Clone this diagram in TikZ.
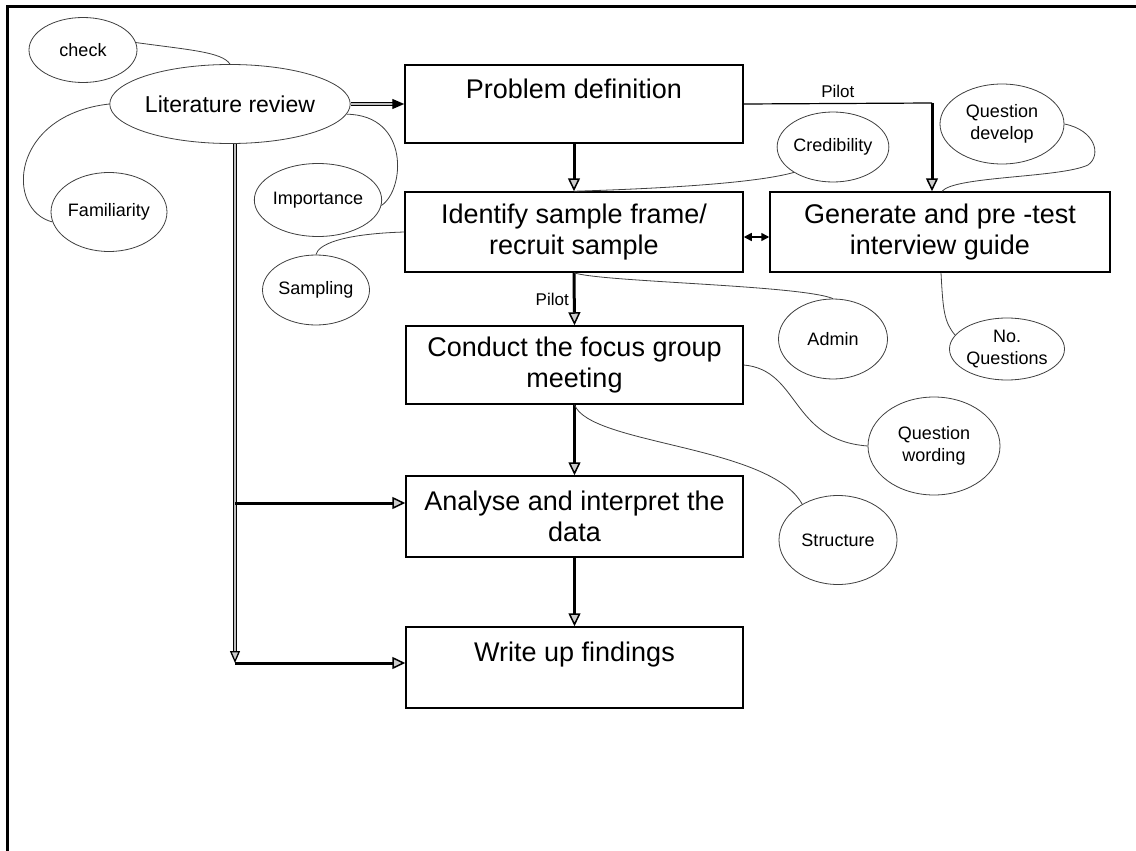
\documentclass[tikz,border=0pt]{standalone}
\usepackage{fontspec}
\setmainfont{Liberation Sans}
\usetikzlibrary{arrows.meta,shapes.geometric}
\begin{document}
\begin{tikzpicture}[x=1pt,y=-1pt,
  stage/.style={draw, line width=1.5pt, rectangle, minimum width=338pt,
    minimum height=80pt, align=center, inner sep=0pt,
    font=\fontsize{27}{31}\selectfont},
  idea/.style={draw=black!75, line width=0.8pt, ellipse, inner sep=0pt,
    align=center, font=\fontsize{18}{22}\selectfont},
  link/.style={draw=black!75, line width=0.8pt},
  flow/.style={line width=3pt,
    -{Triangle[length=13pt,width=12pt,line width=1.5pt,fill=gray!40]}},
  twin/.style={line width=1.3pt, double=gray!50, double distance=1.4pt},
  note/.style={font=\fontsize{17}{20}\selectfont, inner sep=1pt}]

\useasboundingbox (0,0) rectangle (1136,851);
\fill[white] (0,0) rectangle (1136,851);
% page frame
\draw[line width=3pt] (7,851) -- (7,7) -- (1136,7);

% process stages
\node[stage, minimum height=78pt] (prob) at (574,104) {Problem definition\\~};
\node[stage] (ident) at (574,232) {Identify sample frame/\\recruit sample};
\node[stage, minimum width=340pt] (gen) at (940,232) {Generate and pre -test\\interview guide};
\node[stage, minimum width=337pt, minimum height=78pt] (cond) at (574.5,365) {Conduct the focus group\\meeting};
\node[stage, minimum width=337pt, minimum height=81pt] (anal) at (574.5,516.5) {Analyse and interpret the\\data};
\node[stage, minimum width=337pt, minimum height=81pt] (write) at (574.5,667.5) {Write up findings\\~};

% idea bubbles
\node[idea, minimum width=108pt, minimum height=65pt] (check) at (83,50) {check};
\node[idea, minimum width=238pt, minimum height=79pt, font=\fontsize{23}{27}\selectfont] (lit) at (230,104) {Literature review};
\node[idea, minimum width=108pt, minimum height=79pt] (fam) at (109,212) {Familiarity};
\node[idea, minimum width=104pt, minimum height=73pt] (imp) at (318,200) {Importance};
\node[idea, minimum width=107pt, minimum height=70pt] (samp) at (316,290) {Sampling};
\node[idea, minimum width=108pt, minimum height=70pt] (cred) at (833,147) {Credibility};
\node[idea, minimum width=124pt, minimum height=80pt] (qd) at (1002,124) {Question\\develop};
\node[idea, minimum width=115pt, minimum height=62pt] (nq) at (1007,349) {No.\\Questions};
\node[idea, minimum width=109pt, minimum height=80pt] (admin) at (833,339) {Admin};
\node[idea, minimum width=132pt, minimum height=98pt] (qw) at (934,446) {Question\\wording};
\node[idea, minimum width=118pt, minimum height=89pt] (str) at (838,540) {Structure};

% main flow
\draw[twin, -{Triangle[length=12pt,width=10pt]}] (lit.east) -- (prob.west);
\draw[flow] (prob.south) -- (ident.north);
\draw[flow] (ident.south) -- node[note, left=3pt] {Pilot} (cond.north);
\draw[flow] (cond.south) -- (anal.north);
\draw[flow] (anal.south) -- (write.north);

% pilot route to the interview guide
\coordinate (pturn) at (932,103);
\draw[line width=1.2pt] (prob.east) -- node[note, above=4pt] {Pilot} (pturn);
\draw[flow] (pturn) -- (pturn |- gen.north);
\draw[line width=1.6pt, {Triangle[length=8pt,width=8pt]}-{Triangle[length=8pt,width=8pt]}]
  ([yshift=-5pt]ident.east) -- ([yshift=-5pt]gen.west);

% literature feeding the later stages
\coordinate (spa) at (235,503);
\coordinate (spb) at (235,663);
\draw[twin, -{Triangle[length=12pt,width=10pt,fill=gray!40]}] ([xshift=5pt]lit.south) -- (spb);
\draw[flow] (spa) -- (spa -| anal.west);
\draw[flow] (spb) -- (spb -| write.west);

% bubble links
\draw[link] (check.8) .. controls (190,50) and (222,52) .. (lit.north);
\draw[link] (lit.west) .. controls (10,115) and (5,210) .. (fam.190);
\draw[link] (lit.355) .. controls (410,115) and (405,190) .. (imp.355);
\draw[link] (ident.north) .. controls (680,188) and (760,182) .. (cred.213);
\draw[link] (ident.west) .. controls (340,234) and (318,245) .. (samp.north);
\draw[link] (ident.south) .. controls (600,282) and (800,285) .. (admin.north);
\draw[link] ([xshift=2pt]gen.north) .. controls (955,176) and (1060,178) .. (1088,165)
  .. controls (1102,155) and (1095,130) .. (qd.east);
\draw[link] ([xshift=1pt]gen.south) .. controls (943,310) and (944,322) .. (nq.165);
\draw[link] (cond.east) .. controls (800,370) and (790,440) .. (qw.west);
\draw[link] (cond.south) .. controls (590,445) and (770,445) .. (str.135);
\end{tikzpicture}
\end{document}
